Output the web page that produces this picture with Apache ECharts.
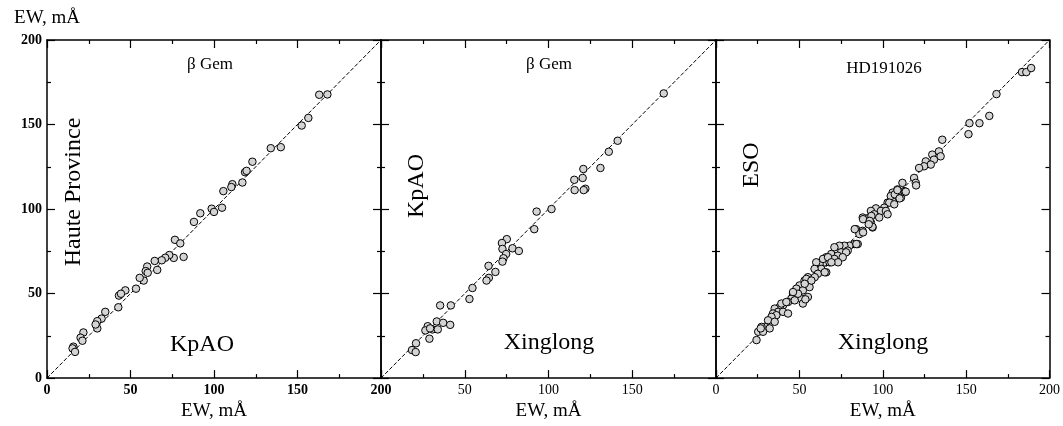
<!DOCTYPE html>
<html lang="en">
<head>
    <meta charset="UTF-8">
    <title>EW comparison</title>
    <script src="https://cdn.jsdelivr.net/npm/echarts@6/dist/echarts.min.js"></script>
    <style>
        html, body { margin: 0; padding: 0; background: #fff; }
        #chart { width: 1063px; height: 426px; }
    </style>
</head>
<body>
<div id="chart"></div>
<script>
    // Tick labels on every axis
    var tickValues = [0, 50, 100, 150, 200];

    // Panel 1: KpAO (x) vs Haute Province (y), beta Gem
    var p1x = [163, 167.9, 152.5, 156.5, 134, 140, 123, 118.6, 119.5, 117, 111, 110.4, 105.6, 104.8, 98.6, 100,
        91.8, 88, 76.6, 79.8, 81.8, 75.9, 73.2, 70.8, 68.7, 64.5, 66, 60, 59.1, 57.9, 55.5, 60.3, 53.3, 46.9,
        43.1, 44.3, 42.7, 34.9, 32.7, 30.1, 30.1, 29.1, 21.8, 20.1, 21.2, 15.8, 15.3, 16.8];
    var p1y = [167.6, 167.8, 149.4, 153.9, 136, 136.6, 128, 121.8, 122.6, 115.7, 114.7, 113, 110.6, 100.8, 100.2, 98.3,
        97.5, 92.4, 81.8, 79.7, 71.7, 71.1, 72.8, 71.2, 69.7, 69.3, 64, 66, 63.3, 57.7, 59.3, 62.3, 52.9, 51.9,
        48.8, 49.9, 41.9, 39.2, 35.2, 33.7, 29.4, 31.7, 27, 23.9, 22.1, 18.6, 17.6, 15.5];

    // Panel 2: Xinglong (x) vs KpAO (y), beta Gem
    var p2x = [168.8, 141.3, 136, 131, 120.8, 120.4, 115.4, 115.6, 122, 121, 101.8, 92.9, 91.5, 75.1, 72.2, 72.5,
        74.7, 73.1, 72.5, 78.5, 82.3, 64.2, 68.3, 64.4, 63, 54.6, 52.8, 35.3, 41.7, 27.9, 26.5, 28.9, 30.7, 33.9,
        33.3, 37.1, 41.3, 29.3, 20.9, 18.5, 20.7];
    var p2y = [168.4, 140.4, 133.9, 124.3, 123.7, 118.4, 117.3, 111.2, 112, 111.2, 100, 98.5, 88.1, 82.2, 79.9, 76.4,
        73.4, 70.9, 68.9, 76.8, 75.2, 66.4, 62.8, 59.3, 57.7, 53.3, 46.8, 43, 43, 30.7, 28.2, 23.3, 28.8, 28.8,
        33.5, 32.7, 31.5, 29.4, 20.6, 16.6, 15.4];

    // Panel 3: Xinglong (x) vs ESO (y), HD191026
    var p3x = [183.5, 186.1, 189, 168.2, 163.9, 158, 152, 151.4, 135.7,
        133.7, 129.7, 134.7, 130.7, 125.8, 128.8, 124.8, 121.8, 118.8, 119.8, 111.8, 108.8, 112.8, 105.9, 109.9,
        106.9, 110.9, 102.9, 105.9, 120, 113.2, 104.8, 113.8, 103.9, 106.9, 100.9, 95.9, 92.9, 98.9, 101.9, 94.9,
        88, 91.9, 97.9, 102.9, 92.9, 93.9, 84, 87.9, 86, 83, 80, 77, 74, 71, 85, 79, 75,
        78, 69.1, 73, 71, 76, 66.1, 65.1, 68.1, 62.1, 60.1, 63.1, 59.1, 66.1, 61.1, 55.1, 53.1, 57.1, 50.1, 54.1,
        48.2, 52.1, 46.2, 49.1, 55.1, 51.2, 52.1, 45.2, 43.2, 47.2, 40.2, 38.2, 35.2, 37.2, 34.2, 40.2, 43.2, 36.2,
        33.3, 31.2, 35.2, 29.3, 32.2, 27.3, 25.3, 28.2, 24.3,
        54.2, 56.1, 53.6, 64.2, 67.2, 73.2, 69.2, 65.2, 59.2, 57.2, 53.2, 49.2, 46.2, 39.2, 42.2, 26.8,
        88.2, 88.2, 83.2, 84.2, 93.2, 92.2, 93.8, 91.6, 107.2, 110.1, 108.8];
    var p3y = [181, 181, 183.4, 168, 155.1, 150.8, 150.8, 144.3, 141,
        134.1, 132.2, 131.2, 129.2, 128.2, 126.3, 125.3, 124.3, 118.4, 115.5, 115.5, 111.6, 110.6, 109.7, 108.7,
        106.7, 106.7, 103.8, 104.7, 114, 110, 107.7, 110.3, 103.8, 102.8, 100.8, 100.4, 98.9, 98.9, 98.9, 96.9,
        95, 95, 95, 96.9, 92, 89.1, 88.1, 87.1, 85.2, 79.3, 78.3, 78.3, 78.3, 77.4, 79.3, 75.4, 74.4,
        74.4, 73.4, 72.4, 70.5, 71.5, 71.5, 68.5, 68.5, 67.5, 68.5, 64.6, 64.6, 62.6, 61.7, 59.7, 57.7, 57.7, 54.8, 54.8,
        52.9, 51.9, 49.9, 48.9, 48, 47, 44.1, 47, 45, 46, 43.1, 42.1, 41.1, 39.2, 38.2, 39.2, 38.2, 37.2,
        36.2, 34.2, 33.3, 30.3, 29.4, 30.3, 27.4, 27.4, 22.5,
        58.7, 53.8, 46.6, 70.5, 71.5, 68.5, 68.5, 62.6, 59.7, 57.7, 55.8, 49.9, 50.9, 44.1, 45, 29.4,
        94, 86.2, 88.1, 79.3, 95.9, 93, 89.5, 91, 108.7, 106.3, 111.2];

    var serif = 'Liberation Serif';

    function pairs(xs, ys) {
        return xs.map(function (v, i) { return [v, ys[i]]; });
    }

    // One axis of a panel; labels only where asked
    function makeAxis(grid, position, labels, bold, extra) {
        var ax = {
            type: 'value', gridIndex: grid, position: position,
            min: tickValues[0], max: tickValues[tickValues.length - 1], interval: 50,
            axisLine: { onZero: false, lineStyle: { color: '#000', width: 1.5 } },
            axisTick: { inside: true, length: 8, lineStyle: { color: '#000', width: 1.2 } },
            minorTick: { show: true, splitNumber: 2, length: 4, lineStyle: { color: '#000', width: 1.2 } },
            splitLine: { show: false },
            axisLabel: {
                show: labels, margin: 5, color: '#000', fontFamily: serif, fontSize: 14,
                fontWeight: bold ? 'bold' : 'normal'
            }
        };
        return Object.assign(ax, extra || {});
    }

    var xName = {
        name: 'EW, mÅ', nameLocation: 'middle', nameGap: 20,
        nameTextStyle: { fontFamily: serif, fontSize: 19, color: '#000' }
    };

    var xAxes = [
        makeAxis(0, 'bottom', true, true, xName),
        makeAxis(0, 'top', false, false),
        makeAxis(1, 'bottom', true, false, Object.assign({ axisLabel: { show: true, margin: 5, color: '#000', fontFamily: serif, fontSize: 14, showMinLabel: false, showMaxLabel: false } }, xName)),
        makeAxis(1, 'top', false, false),
        makeAxis(2, 'bottom', true, false, xName),
        makeAxis(2, 'top', false, false)
    ];
    var yAxes = [
        makeAxis(0, 'left', true, true, {
            name: 'EW, mÅ', nameLocation: 'end', nameGap: 12,
            nameTextStyle: { fontFamily: serif, fontSize: 19, color: '#000', align: 'center' }
        }),
        makeAxis(0, 'right', false, false),
        makeAxis(1, 'left', false, false),
        makeAxis(1, 'right', false, false),
        makeAxis(2, 'left', false, false),
        makeAxis(2, 'right', false, false)
    ];

    var panels = [pairs(p1x, p1y), pairs(p2x, p2y), pairs(p3x, p3y)];
    var series = [];
    panels.forEach(function (pts, i) {
        // dashed one-to-one line
        series.push({
            type: 'line', xAxisIndex: i * 2, yAxisIndex: i * 2,
            data: [[0, 0], [200, 200]], showSymbol: false, silent: true,
            lineStyle: { color: '#000', width: 1, type: [4, 2] }, z: 1
        });
        series.push({
            type: 'scatter', xAxisIndex: i * 2, yAxisIndex: i * 2,
            data: pts, symbol: 'circle', symbolSize: 7.5,
            itemStyle: { color: '#d4d4d4', borderColor: '#000', borderWidth: 1, opacity: 1 }, z: 2
        });
    });

    function label(text, x, y, size, rotate) {
        return {
            type: 'text', x: x, y: y, rotation: rotate ? Math.PI / 2 : 0,
            style: {
                text: text, fontFamily: serif, fontSize: size, fill: '#000',
                align: 'center', verticalAlign: 'middle'
            }
        };
    }

    var chart = echarts.init(document.getElementById('chart'));
    chart.setOption({
        animation: false,
        backgroundColor: '#fff',
        grid: [
            { left: 47, top: 40, width: 334, height: 340 },
            { left: 381, top: 40, width: 335, height: 340 },
            { left: 716, top: 40, width: 335, height: 340 }
        ],
        xAxis: xAxes,
        yAxis: yAxes,
        series: series,
        graphic: [
            label('β Gem', 210, 65, 17),
            label('β Gem', 549, 65, 17),
            label('HD191026', 884, 69, 17),
            label('KpAO', 202, 345, 24),
            label('Xinglong', 549, 343, 24),
            label('Xinglong', 883, 343, 24),
            label('Haute Province', 74, 192, 24, true),
            label('KpAO', 417, 186, 24, true),
            label('ESO', 752, 165, 24, true)
        ]
    });
</script>
</body>
</html>
